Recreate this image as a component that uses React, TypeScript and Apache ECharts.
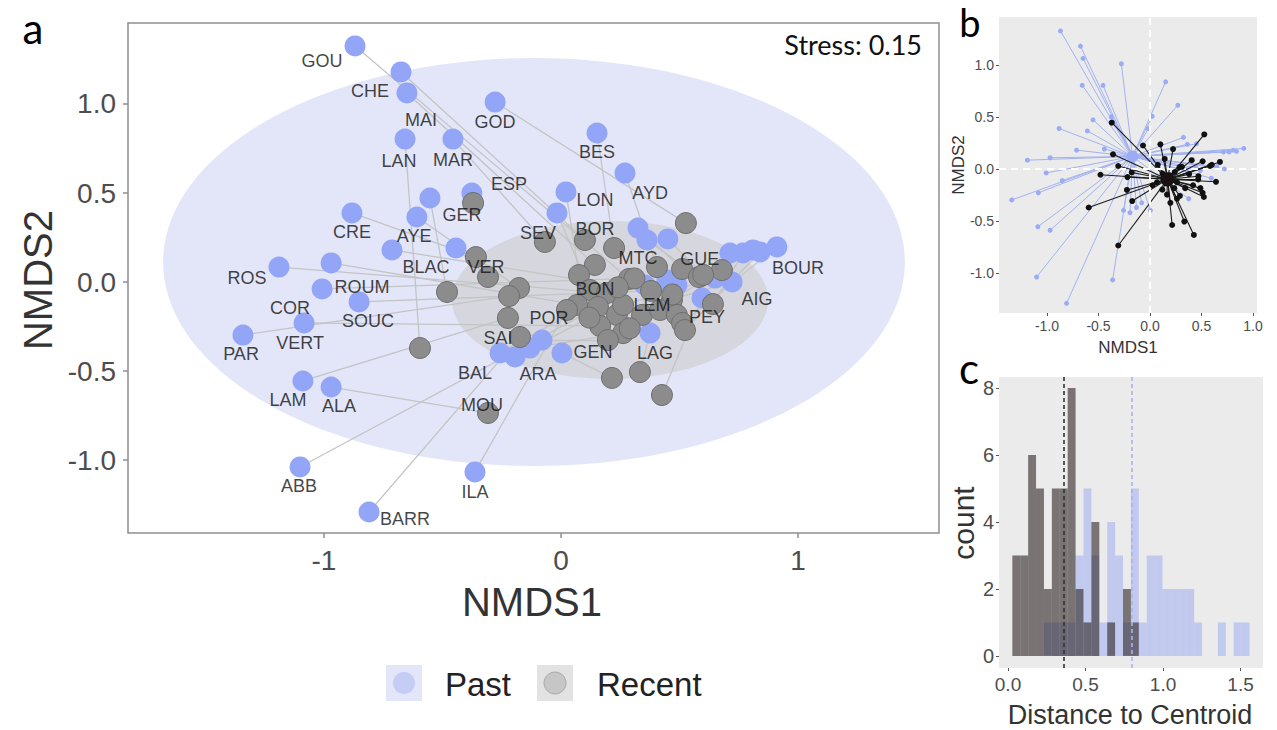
import React, { useEffect, useRef } from "react";
import * as echarts from "echarts";

// ---------- Panel a / b : NMDS coordinates ----------
const pastPoints: [number, number][] = [
  [-0.869, 1.326], [-0.675, 1.18], [-0.65, 1.062], [-0.278, 1.011], [-0.658, 0.803],
  [-0.456, 0.803], [0.152, 0.837], [0.27, 0.612], [0.021, 0.506], [-0.376, 0.5],
  [-0.553, 0.472], [-0.882, 0.388], [-0.608, 0.365], [-0.017, 0.388], [-0.713, 0.18],
  [-0.443, 0.191], [-1.19, 0.084], [-0.97, 0.107], [0.325, 0.303], [0.363, 0.236],
  [0.451, 0.242], [0.713, 0.163], [0.768, 0.163], [0.81, 0.18], [0.84, 0.169],
  [0.911, 0.197], [0.354, -0.017], [0.447, 0.011], [0.489, -0.017], [0.65, 0.022],
  [0.722, 0.0], [0.595, -0.09], [-1.008, -0.039], [-0.852, -0.112], [-1.084, -0.23],
  [-1.342, -0.298], [0.376, -0.287], [0.004, -0.399], [-0.08, -0.326], [-0.131, -0.371],
  [-0.194, -0.421], [-0.257, -0.399], [-1.089, -0.556], [-0.97, -0.59], [-1.101, -1.039],
  [-0.363, -1.067], [-0.81, -1.292],
];

const recentPoints: [number, number][] = [
  [-0.371, 0.444], [0.527, 0.331], [0.101, 0.236], [0.224, 0.191], [-0.068, 0.225],
  [-0.359, 0.14], [-0.308, 0.028], [-0.481, -0.056], [-0.177, -0.034], [-0.219, -0.079],
  [0.143, 0.096], [0.076, 0.039], [0.287, 0.017], [0.405, 0.084], [0.511, 0.073],
  [0.582, 0.028], [0.679, 0.067], [0.122, -0.045], [0.194, -0.062], [0.068, -0.129],
  [0.025, -0.157], [0.156, -0.14], [0.236, -0.185], [0.262, -0.129], [0.342, -0.185],
  [0.418, -0.157], [0.468, -0.101], [0.489, -0.185], [0.511, -0.23], [0.641, -0.124],
  [0.523, -0.27], [-0.224, -0.202], [-0.173, -0.309], [0.165, -0.247], [0.262, -0.287],
  [0.198, -0.326], [0.215, -0.539], [0.333, -0.506], [0.426, -0.635], [-0.308, -0.736],
  [-0.595, -0.371], [0.31, 0.02], [0.6, 0.04], [0.47, -0.07], [0.29, -0.26],
  [0.12, -0.2], [0.38, -0.05], [0.24, -0.03],
];

// site pairs: [past point #, recent point #] (1-based)
const siteLinks: [number, number][] = [
  [1, 13], [2, 3], [3, 11], [4, 2], [5, 41], [6, 5], [7, 4], [8, 14], [9, 12], [10, 1],
  [11, 8], [12, 6], [13, 9], [14, 18], [15, 44], [16, 7], [17, 19], [18, 20], [19, 15], [20, 16],
  [21, 43], [22, 17], [23, 30], [24, 27], [25, 31], [26, 29], [27, 25], [28, 26], [29, 28], [30, 24],
  [31, 23], [32, 39], [33, 42], [34, 47], [35, 34], [36, 10], [37, 38], [38, 37], [39, 36], [40, 35],
  [41, 46], [42, 48], [43, 32], [44, 40], [45, 22], [46, 21], [47, 33],
];

// site name labels [name, NMDS1, NMDS2]
const siteLabels: [string, number, number][] = [
  ["GOU", -1.008, 1.242], ["CHE", -0.806, 1.073], ["MAI", -0.591, 0.91], ["GOD", -0.278, 0.899],
  ["LAN", -0.684, 0.68], ["MAR", -0.456, 0.685], ["BES", 0.152, 0.73], ["ESP", -0.219, 0.551],
  ["AYD", 0.376, 0.5], ["LON", 0.143, 0.461], ["GER", -0.418, 0.376], ["CRE", -0.882, 0.281],
  ["AYE", -0.62, 0.258], ["SEV", -0.097, 0.275], ["BOR", 0.143, 0.298], ["BLAC", -0.57, 0.084],
  ["VER", -0.316, 0.084], ["ROS", -1.325, 0.022], ["MTC", 0.325, 0.135], ["GUE", 0.586, 0.129],
  ["BOUR", 1.0, 0.079], ["ROUM", -0.84, -0.028], ["COR", -1.143, -0.146], ["BON", 0.143, -0.039],
  ["LEM", 0.384, -0.129], ["AIG", 0.827, -0.096], ["SOUC", -0.814, -0.219], ["PEY", 0.616, -0.197],
  ["VERT", -1.101, -0.343], ["PAR", -1.35, -0.404], ["SAI", -0.266, -0.315], ["POR", -0.051, -0.202],
  ["GEN", 0.135, -0.393], ["LAG", 0.397, -0.399], ["BAL", -0.363, -0.511], ["ARA", -0.097, -0.517],
  ["LAM", -1.152, -0.663], ["ALA", -0.937, -0.697], ["MOU", -0.333, -0.691], ["ABB", -1.105, -1.146],
  ["ILA", -0.363, -1.18], ["BARR", -0.658, -1.331],
];

// ellipses [centre x, centre y, radius x, radius y]
const pastEllipse = [-0.114, 0.112, 1.565, 1.146];
const recentEllipse = [0.207, -0.101, 0.667, 0.444];

const stressValue = 0.15;

// panel b centroids
const pastCentroid: [number, number] = [-0.17, 0.12];
const recentCentroid: [number, number] = [0.17, -0.1];

// ---------- Panel c : distance to centroid histogram ----------
const binStart = 0.028;
const binWidth = 0.051;
const pastCounts = [0, 0, 0, 0, 1, 1, 1, 1, 3, 5, 3, 1, 4, 3, 1, 5, 1, 3, 3, 2, 2, 2, 2, 1, 0, 0, 1, 0, 1, 1];
const recentCounts = [3, 3, 6, 5, 2, 5, 5, 8, 2, 1, 4, 0, 1, 0, 2, 1];
const recentMeanDist = 0.36;
const pastMeanDist = 0.8;

const legendNames = ["Past", "Recent"];

const FONT = "Liberation Sans, Arial, sans-serif";
const CAL = "Lato, 'Open Sans', sans-serif";

export default function App() {
  const ref = useRef<HTMLDivElement>(null);

  useEffect(() => {
    const chart = echarts.init(ref.current!, null, { renderer: "svg" });

    const ellipseColors = ["#e3e6f9", "#d6d7de"];
    const ellipseItem = (params: any, api: any) => {
      const cx = api.value(0), cy = api.value(1), rx = api.value(2), ry = api.value(3);
      const pts: number[][] = [];
      for (let i = 0; i < 144; i++) {
        const t = (i / 144) * Math.PI * 2;
        pts.push(api.coord([cx + rx * Math.cos(t), cy + ry * Math.sin(t)]));
      }
      return { type: "polygon", shape: { points: pts }, style: { fill: ellipseColors[params.dataIndex] } };
    };

    const histItem = (fill: string) => (params: any, api: any) => {
      const c = api.value(2);
      if (!c) return null;
      const p0 = api.coord([api.value(0), c]);
      const p1 = api.coord([api.value(1), 0]);
      return {
        type: "rect",
        shape: { x: p0[0], y: p0[1], width: p1[0] - p0[0], height: p1[1] - p0[1] },
        style: { fill },
      };
    };

    const hist = (counts: number[]) =>
      counts.map((c, i) => [binStart + i * binWidth, binStart + (i + 1) * binWidth, c]);

    const mkAxis = (o: any) => ({
      type: "value",
      min: o.min,
      max: o.max,
      gridIndex: o.grid,
      axisLine: { show: false, onZero: false },
      splitLine: { show: false },
      axisTick: { show: true, length: o.tick, customValues: o.vals, lineStyle: { color: o.tickColor, width: o.tickW } },
      axisLabel: {
        customValues: o.vals,
        fontSize: o.fs,
        color: "#4d4d4d",
        margin: o.margin,
        fontFamily: FONT,
        formatter: o.fmt,
      },
    });

    const fmt1 = (v: number) => v.toFixed(1);
    const fmt0 = (v: number) => String(v);

    const option: any = {
      animation: false,
      backgroundColor: "#ffffff",
      grid: [
        { left: 128, top: 23, width: 811, height: 510, show: true, borderColor: "#8f8f8f", borderWidth: 1.5, backgroundColor: "#ffffff" },
        { left: 999, top: 17, width: 258, height: 296, show: true, borderWidth: 0, backgroundColor: "#ebebeb" },
        { left: 999, top: 377, width: 264, height: 291, show: true, borderWidth: 0, backgroundColor: "#ebebeb" },
      ],
      xAxis: [
        mkAxis({ grid: 0, min: -1.827, max: 1.595, vals: [-1, 0, 1], fs: 28, margin: 13, tick: 5, tickColor: "#8f8f8f", tickW: 1.5, fmt: fmt0 }),
        mkAxis({ grid: 1, min: -1.466, max: 1.039, vals: [-1, -0.5, 0, 0.5, 1], fs: 14, margin: 6, tick: 3, tickColor: "#555", tickW: 1, fmt: fmt1 }),
        mkAxis({ grid: 2, min: -0.058, max: 1.645, vals: [0, 0.5, 1, 1.5], fs: 19, margin: 7, tick: 3, tickColor: "#555", tickW: 1, fmt: fmt1 }),
      ],
      yAxis: [
        mkAxis({ grid: 0, min: -1.41, max: 1.455, vals: [-1, -0.5, 0, 0.5, 1], fs: 28, margin: 12, tick: 5, tickColor: "#8f8f8f", tickW: 1.5, fmt: fmt1 }),
        mkAxis({ grid: 1, min: -1.385, max: 1.46, vals: [-1, -0.5, 0, 0.5, 1], fs: 14, margin: 5, tick: 3, tickColor: "#555", tickW: 1, fmt: fmt1 }),
        mkAxis({ grid: 2, min: -0.36, max: 8.33, vals: [0, 2, 4, 6, 8], fs: 20, margin: 5, tick: 3, tickColor: "#555", tickW: 1, fmt: fmt0 }),
      ],
      series: [
        // ----- panel a -----
        {
          type: "custom", xAxisIndex: 0, yAxisIndex: 0, z: 1, silent: true, clip: false,
          renderItem: ellipseItem, data: [pastEllipse, recentEllipse],
        },
        {
          type: "lines", coordinateSystem: "cartesian2d", xAxisIndex: 0, yAxisIndex: 0, z: 2, silent: true,
          lineStyle: { color: "#c4c4c4", width: 1.3, opacity: 1 },
          data: siteLinks.map(([p, r]) => ({ coords: [pastPoints[p - 1], recentPoints[r - 1]] })),
        },
        {
          type: "scatter", name: "Past", xAxisIndex: 0, yAxisIndex: 0, z: 3, silent: true,
          symbolSize: 21, itemStyle: { color: "#92a5f6", opacity: 1 }, data: pastPoints,
        },
        {
          type: "scatter", name: "Recent", xAxisIndex: 0, yAxisIndex: 0, z: 4, silent: true,
          symbolSize: 21, itemStyle: { color: "#8c8c8c", borderColor: "#6e6e6e", borderWidth: 1, opacity: 1 }, data: recentPoints,
        },
        {
          type: "scatter", xAxisIndex: 0, yAxisIndex: 0, z: 6, silent: true,
          symbolSize: 0.1, itemStyle: { color: "transparent" },
          label: { show: true, position: "inside", formatter: (p: any) => p.name, fontSize: 18, color: "#111111", fontFamily: FONT },
          data: siteLabels.map(([n, x, y]) => ({ name: n, value: [x, y] })),
        },
        // ----- panel b -----
        {
          type: "lines", coordinateSystem: "cartesian2d", xAxisIndex: 1, yAxisIndex: 1, z: 2, silent: true,
          lineStyle: { color: "#a3b2f2", width: 1, opacity: 1 },
          data: pastPoints.map((p) => ({ coords: [p, pastCentroid] })),
        },
        {
          type: "scatter", xAxisIndex: 1, yAxisIndex: 1, z: 3, silent: true,
          symbolSize: 5, itemStyle: { color: "#9aacf4", opacity: 1 }, data: pastPoints,
          markLine: {
            silent: true, symbol: ["none", "none"], label: { show: false },
            lineStyle: { color: "#ffffff", type: [7, 5], width: 2 },
            data: [{ xAxis: 0 }, { yAxis: 0 }],
          },
        },
        {
          type: "scatter", xAxisIndex: 1, yAxisIndex: 1, z: 3, silent: true,
          symbolSize: 12, itemStyle: { color: "#9aacf4", opacity: 1 }, data: [pastCentroid],
        },
        {
          type: "lines", coordinateSystem: "cartesian2d", xAxisIndex: 1, yAxisIndex: 1, z: 4, silent: true,
          lineStyle: { color: "#1c1c1c", width: 1.1, opacity: 1 },
          data: recentPoints.map((p) => ({ coords: [p, recentCentroid] })),
        },
        {
          type: "scatter", xAxisIndex: 1, yAxisIndex: 1, z: 5, silent: true,
          symbolSize: 6, itemStyle: { color: "#111111", opacity: 1 }, data: recentPoints,
        },
        {
          type: "scatter", xAxisIndex: 1, yAxisIndex: 1, z: 5, silent: true,
          symbolSize: 14, itemStyle: { color: "#1a1212", opacity: 1 }, data: [recentCentroid],
        },
        // ----- panel c -----
        {
          type: "custom", xAxisIndex: 2, yAxisIndex: 2, z: 2, silent: true,
          encode: { x: [0, 1], y: 2 },
          renderItem: histItem("rgba(143,160,245,0.45)"), data: hist(pastCounts),
        },
        {
          type: "custom", xAxisIndex: 2, yAxisIndex: 2, z: 3, silent: true,
          encode: { x: [0, 1], y: 2 },
          renderItem: histItem("rgba(45,35,35,0.6)"), data: hist(recentCounts),
          markLine: {
            silent: true, symbol: ["none", "none"], label: { show: false },
            data: [
              { xAxis: recentMeanDist, lineStyle: { color: "#333333", type: [4, 3], width: 1.6 } },
              { xAxis: pastMeanDist, lineStyle: { color: "#a7b3f0", type: [4, 3], width: 1.6 } },
            ],
          },
        },
      ],
      graphic: [
        { type: "text", x: 33, y: 28, style: { text: "a", fontSize: 42, fontFamily: CAL, fill: "#000", align: "center", verticalAlign: "middle" } },
        { type: "text", x: 970, y: 22, style: { text: "b", fontSize: 38, fontFamily: CAL, fill: "#000", align: "center", verticalAlign: "middle" } },
        { type: "text", x: 969, y: 368, style: { text: "c", fontSize: 42, fontFamily: CAL, fill: "#000", align: "center", verticalAlign: "middle" } },
        { type: "text", x: 922, y: 44, z: 10, style: { text: "Stress: " + stressValue.toFixed(2), fontSize: 27, fontFamily: CAL, fill: "#111", align: "right", verticalAlign: "middle" } },
        { type: "text", x: 532, y: 602, style: { text: "NMDS1", fontSize: 40, fontFamily: FONT, fill: "#333", align: "center", verticalAlign: "middle" } },
        { type: "text", x: 38, y: 280, rotation: Math.PI / 2, style: { text: "NMDS2", fontSize: 40, fontFamily: FONT, fill: "#333", align: "center", verticalAlign: "middle" } },
        { type: "text", x: 1128, y: 347, style: { text: "NMDS1", fontSize: 17, fontFamily: FONT, fill: "#333", align: "center", verticalAlign: "middle" } },
        { type: "text", x: 958, y: 165, rotation: Math.PI / 2, style: { text: "NMDS2", fontSize: 17, fontFamily: FONT, fill: "#333", align: "center", verticalAlign: "middle" } },
        { type: "text", x: 963, y: 523, rotation: Math.PI / 2, style: { text: "count", fontSize: 30, fontFamily: FONT, fill: "#333", align: "center", verticalAlign: "middle" } },
        { type: "text", x: 1130, y: 715, style: { text: "Distance to Centroid", fontSize: 27, fontFamily: FONT, fill: "#333", align: "center", verticalAlign: "middle" } },
        // legend
        { type: "rect", shape: { x: 386, y: 665, width: 36, height: 36 }, style: { fill: "#e3e6f9" } },
        { type: "circle", shape: { cx: 404, cy: 683, r: 11 }, style: { fill: "#c4cdf6" } },
        { type: "text", x: 445, y: 684, style: { text: legendNames[0], fontSize: 33, fontFamily: FONT, fill: "#222", align: "left", verticalAlign: "middle" } },
        { type: "rect", shape: { x: 537, y: 665, width: 36, height: 36 }, style: { fill: "#e2e2e2" } },
        { type: "circle", shape: { cx: 555, cy: 683, r: 11 }, style: { fill: "#c6c6c6", stroke: "#a8a8a8", lineWidth: 1 } },
        { type: "text", x: 597, y: 684, style: { text: legendNames[1], fontSize: 33, fontFamily: FONT, fill: "#222", align: "left", verticalAlign: "middle" } },
      ],
    };

    chart.setOption(option);
    return () => chart.dispose();
  }, []);

  return <div ref={ref} style={{ position: "absolute", left: 0, top: 0, width: 1277, height: 730 }} />;
}
